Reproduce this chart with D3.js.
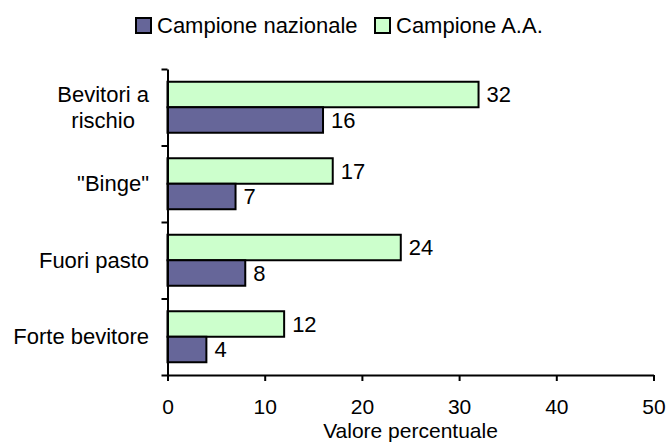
<!DOCTYPE html>
<html>
<head>
<meta charset="utf-8">
<script src="https://cdn.jsdelivr.net/npm/d3@7"></script>
<style>
  html, body { margin: 0; padding: 0; background: #fff; }
  svg { display: block; font-family: "Liberation Sans", Arial, sans-serif; }
</style>
</head>
<body>
<svg id="chart" width="668" height="442"></svg>
<script>
const categories = ["Bevitori a rischio", "\"Binge\"", "Fuori pasto", "Forte bevitore"];
const categoryLines = [["Bevitori a", "rischio"], ["\"Binge\""], ["Fuori pasto"], ["Forte bevitore"]];
const seriesNames = ["Campione nazionale", "Campione A.A."];
const nazionale = [16, 7, 8, 4];
const campioneAA = [32, 17, 24, 12];
const xTicks = [0, 10, 20, 30, 40, 50];
const xTitle = "Valore percentuale";

const colors = {"Campione nazionale": "#666699", "Campione A.A.": "#CCFFCC"};
const FS = 22;

const svg = d3.select("#chart");
const plotL = 167.5, plotR = 653.5, plotT = 69, plotB = 375;

const x = d3.scaleLinear().domain([0, 50]).range([plotL, plotR]);
const y = d3.scaleBand().domain(categories).range([plotT, plotB]).padding(0);
const barOrder = ["Campione A.A.", "Campione nazionale"];
const sub = d3.scaleBand().domain(barOrder).range([0, y.bandwidth()]).paddingInner(0).paddingOuter(0.5);

const data = categories.map((c, i) => ({
  cat: c, lines: categoryLines[i],
  vals: [{s: "Campione A.A.", v: campioneAA[i]}, {s: "Campione nazionale", v: nazionale[i]}]
}));

// bars
const g = svg.append("g");
const grp = g.selectAll("g.cat").data(data).join("g")
  .attr("transform", d => `translate(0,${y(d.cat)})`);
grp.selectAll("rect").data(d => d.vals).join("rect")
  .attr("x", x(0))
  .attr("y", d => sub(d.s))
  .attr("width", d => x(d.v) - x(0))
  .attr("height", sub.bandwidth())
  .attr("fill", d => colors[d.s])
  .attr("stroke", "#000")
  .attr("stroke-width", 2);
grp.selectAll("text.val").data(d => d.vals).join("text")
  .attr("class", "val")
  .attr("x", d => x(d.v) + 8)
  .attr("y", d => sub(d.s) + sub.bandwidth() / 2)
  .attr("dy", "0.35em")
  .attr("font-size", FS)
  .attr("fill", "#000")
  .text(d => d.v);

// x axis
const xAxis = svg.append("g")
  .attr("transform", `translate(0,${plotB})`)
  .call(d3.axisBottom(x).tickValues(xTicks).tickSize(6).tickSizeOuter(0).tickPadding(18));
xAxis.select(".domain").attr("stroke", "#000").attr("stroke-width", 2);
xAxis.selectAll(".tick line").attr("stroke", "#000").attr("stroke-width", 2);
xAxis.selectAll(".tick text").attr("font-size", 21).attr("font-family", "Liberation Sans, Arial, sans-serif").attr("fill", "#000");

// y axis (ticks at band boundaries)
const yb = d3.scaleLinear().domain([0, categories.length]).range([plotT, plotB]);
const yAxis = svg.append("g")
  .attr("transform", `translate(${plotL},0)`)
  .call(d3.axisLeft(yb).ticks(categories.length).tickSize(6).tickSizeOuter(0).tickFormat(""));
yAxis.select(".domain").attr("stroke", "#000").attr("stroke-width", 2);
yAxis.selectAll(".tick line").attr("stroke", "#000").attr("stroke-width", 2);

// category labels
const labelRight = 149;
const lineH = 26;
data.forEach(d => {
  const cy = y(d.cat) + y.bandwidth() / 2;
  const t = svg.append("text").attr("font-size", FS).attr("fill", "#000").attr("text-anchor", "middle");
  const n = d.lines.length;
  const tsp = d.lines.map((ln, k) => t.append("tspan").text(ln)
      .attr("y", cy + (k - (n - 1) / 2) * lineH).attr("dy", "0.35em"));
  const maxW = Math.max(...tsp.map(s => s.node().getComputedTextLength()));
  tsp.forEach(s => s.attr("x", labelRight - maxW / 2));
});

// x title
svg.append("text")
  .attr("x", (plotL + plotR) / 2).attr("y", 438)
  .attr("text-anchor", "middle").attr("font-size", 21).attr("fill", "#000")
  .text(xTitle);

// legend
const legendItems = [{s: seriesNames[0], x: 136}, {s: seriesNames[1], x: 375}];
const lg = svg.append("g");
legendItems.forEach(it => {
  lg.append("rect").attr("x", it.x).attr("y", 18).attr("width", 15).attr("height", 15)
    .attr("fill", colors[it.s]).attr("stroke", "#000").attr("stroke-width", 2);
  lg.append("text").attr("x", it.x + 21).attr("y", 33).attr("font-size", FS).attr("fill", "#000").text(it.s);
});
</script>
</body>
</html>
